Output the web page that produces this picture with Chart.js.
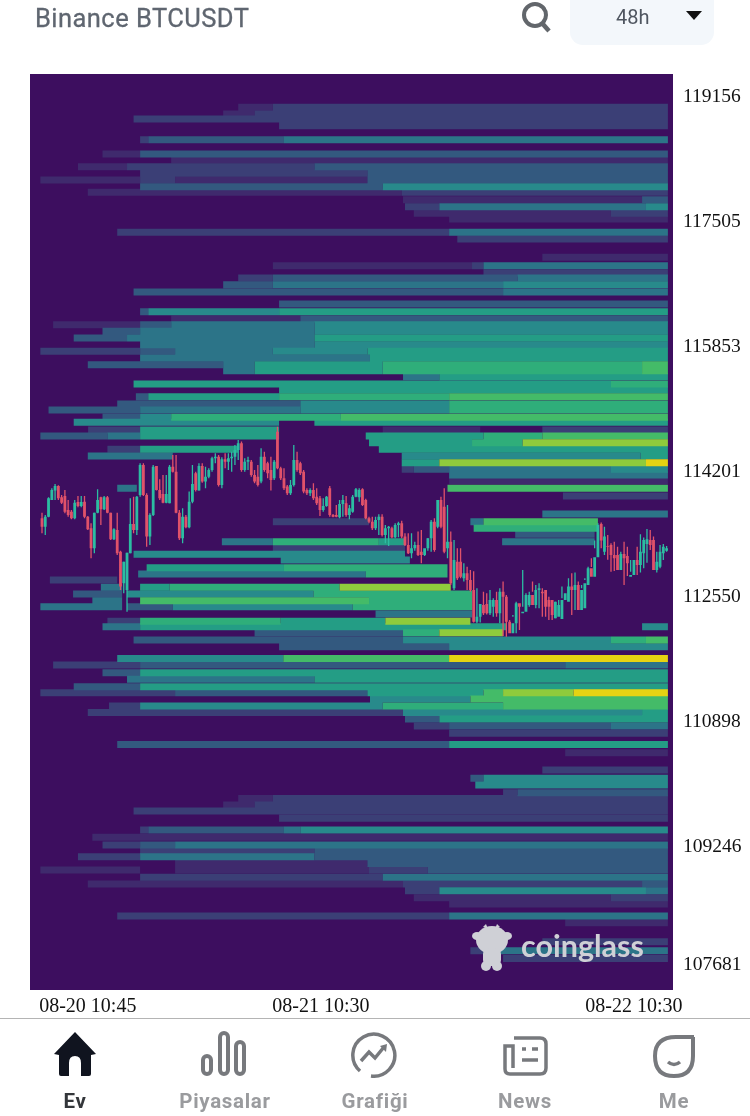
<!DOCTYPE html>
<html>
<head>
<meta charset="utf-8">
<title>Binance BTCUSDT</title>
<script src="https://cdn.jsdelivr.net/npm/chart.js@4"></script>
<style>
    html, body { margin: 0; padding: 0; background: #fff; }
    body { position: relative; width: 750px; height: 1116px; overflow: hidden; font-family: Roboto, sans-serif; }
    #grafico { position: absolute; left: 0; top: 0; filter: blur(0.4px); }
    .titulo { position: absolute; left: 35px; top: 3px; font-size: 25.5px; line-height: 30px; font-weight: 400; color: #5f6670; letter-spacing: 0.45px; -webkit-text-stroke: 0.3px #5f6670; }
    .selector { position: absolute; left: 570px; top: -12px; width: 144px; height: 57px; background: #f3f7fb; border-radius: 13px; }
    .selector span { position: absolute; left: 46px; top: 17px; font-size: 20px; line-height: 24px; color: #4f5660; }
    .logo { position: absolute; left: 472px; top: 924px; }
    .marca { position: absolute; left: 521px; top: 926px; font-family: Lato, sans-serif; font-size: 30.5px; line-height: 38px; font-weight: 700; color: #cfd0d6; }
    .linea { position: absolute; left: 0; top: 1018px; width: 750px; height: 1px; background: #b4b4b4; }
    .tab { position: absolute; top: 1088px; width: 150px; text-align: center; font-size: 20.5px; line-height: 26px; font-weight: 700; color: #9a9b9e; letter-spacing: 0.7px; }
    .icono { position: absolute; top: 1030px; }
</style>
</head>
<body>
<canvas id="grafico" width="750" height="1116"></canvas>

<div class="titulo">Binance BTCUSDT</div>
<svg class="icono" style="left:518px;top:0" width="36" height="34" viewBox="0 0 36 34">
    <circle cx="17" cy="15" r="11" fill="none" stroke="#62666b" stroke-width="4"/>
    <line x1="24" y1="23" x2="31" y2="31" stroke="#62666b" stroke-width="4.5"/>
</svg>
<div class="selector"><span>48h</span></div>
<svg class="icono" style="left:685px;top:10px" width="18" height="12"><polygon points="1,1 17,1 9,10" fill="#111"/></svg>

<svg class="logo" width="42" height="48" viewBox="0 0 42 48">
    <g fill="#cfd0d6">
        <ellipse cx="20" cy="16" rx="16" ry="14"/>
        <ellipse cx="5" cy="12" rx="5" ry="4"/>
        <ellipse cx="35" cy="12" rx="5" ry="4"/>
        <rect x="11" y="24" width="18" height="18" rx="6"/>
        <ellipse cx="14" cy="42" rx="5" ry="5"/>
        <ellipse cx="25" cy="42" rx="5" ry="5"/>
        <polygon points="11,3 14,0 16,5"/>
        <polygon points="28,3 25,0 23,5"/>
    </g>
</svg>
<div class="marca">coinglass</div>

<div class="linea"></div>
<svg class="icono" style="left:52px" width="46" height="48" viewBox="0 0 46 48">
    <path d="M23 2 L44 24 L39 25 L39 44 Q39 46 37 46 L29 46 L29 33 Q29 26 23 26 Q17 26 17 33 L17 46 L9 46 Q7 46 7 44 L7 25 L2 24 Z" fill="#10141f"/>
</svg>
<svg class="icono" style="left:200px" width="50" height="46" viewBox="0 0 50 46" fill="none" stroke="#77797d" stroke-width="4">
    <rect x="3" y="26" width="8" height="18" rx="4"/>
    <rect x="20" y="3" width="8" height="41" rx="4"/>
    <rect x="36" y="12" width="8" height="32" rx="4"/>
</svg>
<svg class="icono" style="left:351px;top:1032px" width="48" height="48" viewBox="0 0 48 48" fill="none" stroke="#77797d" stroke-width="3.5">
    <path d="M9 39 A21 21 0 1 1 20 44"/>
    <path d="M10 29 L18 20 L24 26 L33 15" stroke-width="3.5"/>
    <polygon points="36,12 29,14 35,20" fill="#77797d" stroke="none"/>
</svg>
<svg class="icono" style="left:502px;top:1034px" width="46" height="44" viewBox="0 0 46 44" fill="none" stroke="#77797d" stroke-width="3.5">
    <path d="M12 4 L38 4 Q44 4 44 10 L44 34 Q44 40 38 40 L8 40 Q3 40 3 35 L3 12 L11 12 L11 34"/>
    <line x1="20" y1="15" x2="24" y2="15"/>
    <line x1="30" y1="15" x2="36" y2="15"/>
    <line x1="20" y1="26" x2="36" y2="26"/>
</svg>
<svg class="icono" style="left:652px;top:1034px" width="46" height="46" viewBox="0 0 46 46" fill="none" stroke="#77797d" stroke-width="4">
    <path d="M42 3 L24 3 Q3 3 3 22 Q3 42 22 42 Q41 42 41 22 L41 3"/>
    <path d="M16 28 Q22 33 28 28" stroke-width="3.5"/>
</svg>
<div class="tab" style="left:0;color:#33363a">Ev</div>
<div class="tab" style="left:150px">Piyasalar</div>
<div class="tab" style="left:300px">Grafiği</div>
<div class="tab" style="left:450px">News</div>
<div class="tab" style="left:599px">Me</div>

<script>
'use strict';

// Ejes
const priceTicks = [119156, 117505, 115853, 114201, 112550, 110898, 109246, 107681];
const timeTickCandles = [14, 85.3, 181];
const timeTickLabels = ['08-20 10:45', '08-21 10:30', '08-22 10:30'];

// Velas de 15 min
const candleOpen = [
    113560, 113450, 113582, 113802, 113926, 113987, 113838, 113855, 113670, 113648, 113560, 113776, 113723, 113780, 113582, 113428,
    113163, 113635, 113838, 113679, 113838, 113635, 113282, 113406, 113119, 112701, 112612, 113097, 113485, 113406, 113868, 114265,
    113868, 113318, 113604, 114252, 113935, 113882, 113767, 113758, 114243, 114177, 113635, 113296, 113582, 113441, 113780, 114155,
    113926, 114252, 114045, 114111, 114199, 114353, 114375, 114001, 114340, 114309, 114353, 114375, 114463, 114552, 114199, 114309,
    114309, 114133, 114111, 114045, 114375, 114287, 114199, 114089, 114706, 114221, 114089, 113979, 113890, 114001, 114331, 114287,
    114177, 113935, 113890, 113935, 113846, 113824, 113670, 113723, 113957, 113604, 113604, 113573, 113749, 113758, 113604, 113648,
    113846, 113838, 113943, 113802, 113560, 113516, 113428, 113538, 113582, 113340, 113428, 113428, 113309, 113472, 113494, 113318,
    113207, 113097, 113163, 113207, 113119, 113075, 113163, 113296, 113516, 113450, 113802, 113714, 113163, 113251, 112634, 112987,
    112987, 112767, 112833, 112745, 112612, 112194, 112260, 112414, 112427, 112304, 112392, 112480, 112304, 112590, 112524, 112194,
    112040, 112172, 112436, 112304, 112326, 112414, 112546, 112414, 112612, 112590, 112612, 112480, 112480, 112238, 112260, 112229,
    112480, 112458, 112657, 112612, 112679, 112348, 112370, 112679, 112899, 112789, 113044, 113485, 113119, 113194, 113207, 113075,
    113075, 112877, 113088, 113062, 112789, 112811, 113009, 112943, 113097, 113221, 113273, 113273, 112877, 112921, 113097, 113132
];
const candleHigh = [
    113635, 113604, 113838, 113957, 114014, 113996, 113868, 113935, 113802, 113670, 113802, 113855, 113855, 113855, 113591, 113494,
    113635, 113943, 113846, 113855, 113855, 113635, 113428, 113635, 113132, 112987, 113106, 113824, 113846, 113855, 114287, 114287,
    113890, 113626, 114265, 114252, 114076, 114133, 114133, 114265, 114397, 114397, 113670, 113692, 113604, 113913, 114265, 114177,
    114287, 114287, 114243, 114221, 114375, 114419, 114397, 114366, 114419, 114419, 114441, 114529, 114596, 114574, 114353, 114375,
    114331, 114199, 114265, 114485, 114441, 114309, 114375, 114331, 114772, 114243, 114221, 114001, 114067, 114529, 114441, 114309,
    114199, 113957, 113957, 114023, 113957, 113855, 113824, 113855, 113987, 113617, 113736, 113802, 113868, 113855, 113736, 113868,
    113961, 113957, 113957, 113820, 113582, 113582, 113582, 113613, 113613, 113472, 113459, 113450, 113494, 113516, 113529, 113362,
    113362, 113362, 113251, 113384, 113406, 113141, 113296, 113538, 113560, 113714, 113846, 113957, 113736, 113384, 113273, 113163,
    113163, 112965, 112921, 112877, 112860, 112634, 112344, 112590, 112568, 112612, 112502, 112590, 112634, 112723, 112546, 112216,
    112260, 112458, 112414, 112877, 112568, 112590, 112723, 112679, 112701, 112634, 112502, 112524, 112480, 112458, 112480, 112502,
    112590, 112767, 112833, 112842, 112723, 112634, 112745, 112921, 112916, 113163, 113494, 113503, 113450, 113340, 113229, 113251,
    113185, 113119, 113251, 113185, 113009, 113009, 113185, 113349, 113307, 113419, 113406, 113318, 113119, 113207, 113221, 113194
];
const candleLow = [
    113362, 113340, 113573, 113802, 113802, 113802, 113749, 113626, 113582, 113547, 113547, 113705, 113705, 113560, 113406, 113031,
    113097, 113626, 113472, 113670, 113626, 113274, 113274, 113075, 112612, 112568, 112326, 113097, 113362, 113340, 113846, 113855,
    113185, 113207, 113591, 113926, 113802, 113758, 113758, 113758, 114164, 113626, 113274, 113229, 113428, 113428, 113758, 113913,
    113926, 114031, 113957, 114089, 114177, 114287, 113979, 113957, 114221, 114199, 114177, 114265, 114331, 114177, 114177, 114199,
    114111, 114023, 113979, 114023, 114177, 114089, 113926, 114067, 114208, 114067, 113935, 113868, 113868, 113979, 114177, 114133,
    113890, 113868, 113855, 113802, 113736, 113591, 113648, 113714, 113582, 113573, 113573, 113560, 113582, 113582, 113547, 113635,
    113838, 113780, 113723, 113547, 113494, 113406, 113406, 113340, 113318, 113229, 113194, 113296, 113296, 113309, 113296, 113194,
    113088, 113031, 113132, 113062, 112965, 113062, 113132, 113119, 113119, 113428, 113428, 113097, 113031, 112679, 112612, 112745,
    112767, 112723, 112612, 112590, 112181, 112172, 112181, 112282, 112287, 112282, 112260, 112260, 112172, 112004, 111995, 112150,
    112282, 112040, 112084, 112392, 112392, 112392, 112590, 112370, 112370, 112260, 112260, 112216, 112216, 112238, 112370, 112657,
    112590, 112634, 112282, 112348, 112348, 112679, 112767, 112767, 113031, 113265, 113097, 113163, 113075, 113011, 112855, 112864,
    113009, 112943, 112679, 112798, 112855, 112930, 112811, 112842, 112899, 112974, 113141, 112877, 112842, 112899, 113009, 113119
];
const candleClose = [
    113450, 113582, 113824, 113935, 113987, 113824, 113767, 113648, 113604, 113560, 113767, 113723, 113776, 113582, 113415, 113163,
    113635, 113802, 113679, 113838, 113635, 113282, 113415, 113097, 112657, 112987, 113106, 113485, 113406, 113846, 114265, 113868,
    113318, 113604, 114243, 113935, 113824, 113767, 113882, 114243, 114177, 113635, 113296, 113582, 113441, 113780, 114014, 113935,
    114252, 114045, 114111, 114199, 114353, 114375, 114001, 114340, 114309, 114353, 114375, 114463, 114552, 114199, 114309, 114331,
    114133, 114045, 114001, 114375, 114199, 114155, 114067, 114309, 114221, 114089, 113957, 113890, 114001, 114331, 114199, 114155,
    113913, 113890, 113935, 113824, 113758, 113670, 113723, 113846, 113604, 113582, 113582, 113749, 113802, 113604, 113692, 113846,
    113943, 113935, 113736, 113560, 113516, 113428, 113538, 113582, 113340, 113428, 113450, 113309, 113472, 113494, 113318, 113207,
    113097, 113163, 113207, 113075, 113075, 113163, 113296, 113516, 113141, 113802, 113450, 113119, 113251, 112701, 113009, 112767,
    112789, 112833, 112745, 112612, 112194, 112260, 112427, 112304, 112304, 112480, 112480, 112304, 112590, 112524, 112194, 112040,
    112172, 112436, 112392, 112326, 112546, 112546, 112414, 112612, 112634, 112568, 112392, 112392, 112282, 112458, 112414, 112480,
    112568, 112657, 112612, 112679, 112348, 112612, 112701, 112899, 112789, 113044, 113472, 113265, 113318, 113185, 113075, 113031,
    112877, 113088, 113031, 112965, 112811, 113009, 112943, 113119, 113274, 113282, 113207, 112877, 112987, 113119, 113185, 113163
];

// Filas del mapa de calor: precio, luego tramos [vela inicial, vela final, nivel]
const E = 191.4;
const heatRows = [
    [118993, [60, 70.6, 1], [70.6, E, 2]],
    [118905, [55.4, 65, 1], [65, 70.6, 2], [70.6, E, 2]],
    [118839, [28, 65, 2], [65, E, 2]],
    [118751, [72.5, E, 2]],
    [118566, [30, 32.5, 2], [32.5, 73.8, 3], [73.8, 79, 4], [79, E, 4]],
    [118376, [18.5, 30, 1], [30, 39.5, 3], [39.5, 91.4, 3], [91.4, E, 3]],
    [118297, [39.5, E, 1]],
    [118209, [11, 26, 1], [26, 83.3, 2], [83.3, E, 3]],
    [118121, [30, 99.5, 2], [99.5, E, 3]],
    [118033, [-0.5, 30, 1], [30, 40.7, 2], [40.7, 99.5, 1], [99.5, E, 3]],
    [117944, [30, 104.2, 3], [104.2, E, 5]],
    [117870, [14, 110, 1], [110, E, 2]],
    [117773, [110.4, 183.5, 1], [183.5, E, 3]],
    [117680, [111, 121.5, 2], [121.5, 184.7, 4], [184.7, E, 5]],
    [117592, [113.7, 174, 1], [174, E, 2]],
    [117517, [124.5, E, 1]],
    [117341, [23, 124.5, 2], [124.5, E, 4]],
    [117253, [127, E, 2]],
    [117010, [153, E, 1]],
    [116900, [70.6, 131.5, 1], [131.5, 135, 2], [135, E, 4]],
    [116803, [135, E, 2]],
    [116737, [60, 70.6, 2], [70.6, 145.4, 3], [145.4, E, 4]],
    [116649, [55.4, 70.6, 3], [70.6, 141, 4], [141, E, 5]],
    [116552, [28, 141, 3], [141, E, 4]],
    [116393, [72.5, E, 3]],
    [116292, [30, 32.5, 3], [32.5, 72.5, 5], [72.5, E, 6]],
    [116195, [39.5, 79, 1], [79, E, 3]],
    [116120, [3.4, 30, 1], [30, 39.5, 3], [39.5, 83.3, 4], [83.3, E, 5]],
    [116032, [18.5, 30, 3], [30, 83.3, 4], [83.3, E, 5]],
    [115944, [9.7, 26, 3], [26, 83.3, 4], [83.3, E, 6]],
    [115855, [30, 83.3, 4], [83.3, E, 5]],
    [115767, [-0.5, 30, 2], [30, 40.7, 3], [40.7, 70.6, 4], [70.6, 99.5, 5], [99.5, E, 6]],
    [115679, [30, 100.3, 4], [100.3, E, 6]],
    [115591, [14, 55.4, 3], [55.4, 65, 4], [65, 104.2, 6], [104.2, 183.5, 7], [183.5, E, 8]],
    [115512, [55.4, 65, 4], [65, 104.2, 6], [104.2, 183.5, 7], [183.5, E, 8]],
    [115433, [110.4, 121.5, 4], [121.5, E, 6]],
    [115336, [28, 174, 6], [174, E, 7]],
    [115256, [72.5, E, 6]],
    [115168, [28.7, 32.5, 3], [32.5, 72.5, 6], [72.5, 124.5, 7], [124.5, E, 8]],
    [115071, [23, 79, 3], [79, 124.5, 5], [124.5, E, 7]],
    [114992, [2, 30, 3], [30, 79, 4], [79, 124.5, 5], [124.5, E, 7]],
    [114895, [18.5, 30, 3], [30, 39.5, 5], [39.5, 91.4, 7], [91.4, E, 8]],
    [114829, [9.7, 72.5, 5], [83.3, E, 6]],
    [114728, [14.1, 30, 2], [30, 72.5, 6], [104.2, 134, 1], [153, E, 2]],
    [114648, [-0.5, 20, 3], [20, 30, 4], [30, 72.5, 6], [99, 135, 6], [135, 153, 7], [153, E, 8]],
    [114560, [100, 131.5, 6], [131.5, 147, 7], [147, E, 9]],
    [114472, [20, 30, 2], [30, 60, 6], [103, E, 6]],
    [114384, [14, 40, 4], [110, 183, 5], [183, E, 6]],
    [114296, [110, 121.5, 6], [121.5, 184.7, 9], [184.7, E, 10]],
    [114208, [110, 113.7, 2], [113.7, 124.5, 3], [124.5, 174, 4], [174, E, 5]],
    [114133, [124.5, E, 4]],
    [114058, [124.5, E, 1]],
    [113957, [23, 29, 4], [124, E, 8]],
    [113855, [159.3, E, 2]],
    [113617, [153, E, 4]],
    [113516, [70.6, 100, 2], [131, 135, 4], [135, 170, 8]],
    [113428, [132, 170, 7]],
    [113349, [144.7, 169, 3]],
    [113251, [55, 70.6, 4], [70.6, 103, 7], [103, 111, 6], [140.7, 169, 4]],
    [113163, [70.6, 111, 2]],
    [113084, [28, 111, 5]],
    [113009, [73, 112.5, 5]],
    [112908, [32, 74, 6], [74, 124, 7]],
    [112824, [29.4, 99, 4], [99, 124, 7]],
    [112745, [2.4, 23, 2]],
    [112648, [18, 24.5, 4], [30, 39, 6], [39, 91, 7], [91, 125, 9]],
    [112560, [9.5, 24.5, 3], [26, 83, 5], [83, 131.5, 7]],
    [112471, [15.4, 24.5, 4], [30, 100, 8], [100, 131.5, 7]],
    [112392, [-0.5, 24.5, 4], [26, 40, 3], [40, 95, 5], [95, 131.5, 7]],
    [112295, [102, 131.5, 4]],
    [112200, [20, 30, 2], [30, 73, 7], [73, 105, 6], [105, 131, 9]],
    [112128, [18.5, 30, 4], [30, 59, 6], [59, 142, 6], [183.5, E, 5]],
    [112048, [65, 110.4, 3], [110.4, 121.5, 7], [121.5, 141, 9]],
    [111951, [28, 110.4, 3], [110.4, 174, 5], [174, 184.7, 7], [184.7, E, 8]],
    [111863, [72.5, 124.5, 3], [124.5, E, 5]],
    [111708, [23, 73.8, 5], [73.8, 124.5, 8], [124.5, E, 10]],
    [111620, [3.4, 30, 2], [30, 160, 3], [160, E, 4]],
    [111519, [18.5, 30, 3], [30, E, 6]],
    [111431, [26, 83.3, 4], [83.3, E, 6]],
    [111334, [9.7, 30, 3], [30, E, 6]],
    [111254, [-0.5, 40.7, 2], [40.7, 99.5, 3], [99.5, 135, 6], [135, 141, 8], [141, 162.6, 9], [162.6, E, 10]],
    [111171, [100.3, 131, 5], [131, 147, 8], [147, E, 8]],
    [111078, [20.5, 30, 2], [30, 104.2, 5], [104.2, 141, 7], [141, E, 8]],
    [110994, [14, 110.4, 2], [110.4, 183.5, 5], [183.5, E, 6]],
    [110906, [111, 121.5, 3], [121.5, E, 6]],
    [110814, [113.7, 124.5, 2], [124.5, 174, 3], [174, E, 4]],
    [110717, [124.5, E, 2]],
    [110571, [23, 124.5, 3], [124.5, E, 6]],
    [110461, [160, E, 1]],
    [110232, [153, E, 2]],
    [110122, [131, 135, 3], [135, E, 5]],
    [110034, [132.5, E, 5]],
    [109932, [141, 145.4, 2], [145.4, E, 3]],
    [109857, [60, 70.6, 1], [70.6, E, 2]],
    [109769, [55.4, 65, 1], [65, E, 2]],
    [109690, [28, E, 2]],
    [109593, [72.5, E, 2]],
    [109439, [30, 32.5, 2], [32.5, 73.8, 3], [73.8, 79, 4], [79, E, 5]],
    [109342, [15.4, E, 1]],
    [109240, [18.5, 30, 2], [30, 40.7, 3], [40.7, E, 4]],
    [109166, [30, 83.3, 2], [83.3, E, 3]],
    [109086, [11, 30, 2], [30, 83.3, 4], [83.3, E, 3]],
    [108998, [40.7, 99.5, 1], [99.5, E, 3]],
    [108910, [-0.5, 30, 1], [40.7, 100, 1], [100, 118, 2], [118, E, 3]],
    [108813, [30, 104.2, 2], [104.2, E, 4]],
    [108725, [14, 110.4, 1], [110.4, 183.5, 2], [183.5, E, 3]],
    [108637, [111, 121.5, 2], [121.5, 184.7, 5], [184.7, E, 4]],
    [108544, [113.7, 174, 1], [174, E, 2]],
    [108461, [124.5, E, 1]],
    [108302, [23, 124.5, 2], [124.5, E, 4]],
    [108214, [160, E, 1]],
    [107963, [153, E, 2]],
    [107843, [131, 135, 2], [135, E, 4]],
    [107742, [141, E, 2]]
];

const coloresNivel = ['#3f2a6d', '#3b3f76', '#33597f', '#2c7488', '#288a8b', '#249d85', '#2fae7a', '#44bb68', '#8fcb3c', '#e6d312'];
const colorFondo = '#3d0e5f';
const colorSube = '#2cbda2';
const colorBaja = '#e0526a';

// Un dataset de linea por nivel, con huecos entre tramos
let crearFranjas = () => {
    return coloresNivel.map((color, n) => {
        let puntos = [];
        for (let i = 0; i < heatRows.length; i++) {
            let precio = heatRows[i][0];
            for (let j = 1; j < heatRows[i].length; j++) {
                let tramo = heatRows[i][j];
                if (tramo[2] == n + 1) {
                    puntos.push({ x: tramo[0], y: precio }, { x: tramo[1], y: precio }, { x: tramo[1], y: null });
                }
            }
        }
        return { data: puntos, borderColor: color, borderWidth: 7, order: 20 - n };
    });
}

let crearVelas = (subida, desde, hasta, ancho) => {
    let puntos = [];
    for (let i = 0; i < candleClose.length; i++) {
        if ((candleClose[i] >= candleOpen[i]) == subida) {
            puntos.push({ x: i, y: desde[i] }, { x: i, y: hasta[i] }, { x: i, y: null });
        }
    }
    return { data: puntos, borderColor: subida ? colorSube : colorBaja, borderWidth: ancho, order: 1 };
}

const fondoPlugin = {
    id: 'fondo',
    beforeDraw: (chart) => {
        let area = chart.chartArea;
        chart.ctx.fillStyle = colorFondo;
        chart.ctx.fillRect(area.left, area.top, area.right - area.left, area.bottom - area.top);
    }
};

new Chart(document.getElementById('grafico'), {
    type: 'scatter',
    data: {
        datasets: [
            crearVelas(true, candleHigh, candleLow, 1.3),
            crearVelas(false, candleHigh, candleLow, 1.3),
            crearVelas(true, candleOpen, candleClose, 2.8),
            crearVelas(false, candleOpen, candleClose, 2.8),
            ...crearFranjas()
        ]
    },
    options: {
        responsive: false,
        animation: false,
        showLine: true,
        spanGaps: false,
        layout: { padding: { left: 30, top: 74, right: 0, bottom: 96 } },
        elements: { point: { radius: 0, hoverRadius: 0 }, line: { borderCapStyle: 'butt', tension: 0 } },
        plugins: { legend: { display: false }, tooltip: { enabled: false } },
        events: [],
        scales: {
            x: {
                type: 'linear',
                min: -3.67,
                max: 192.96,
                grid: { display: false, drawTicks: false },
                border: { display: false },
                afterBuildTicks: (escala) => { escala.ticks = timeTickCandles.map(v => ({ value: v })); },
                afterFit: (escala) => { escala.height = 30; },
                ticks: {
                    autoSkip: false,
                    maxRotation: 0,
                    padding: 5,
                    color: '#111',
                    font: { family: '"Liberation Serif"', size: 20 },
                    callback: (v, i) => timeTickLabels[i]
                }
            },
            y: {
                type: 'linear',
                position: 'right',
                min: 107324,
                max: 119434,
                grid: { display: false, drawTicks: false },
                border: { display: false },
                afterBuildTicks: (escala) => { escala.ticks = priceTicks.map(v => ({ value: v })); },
                afterFit: (escala) => { escala.width = 77; },
                ticks: {
                    autoSkip: false,
                    padding: 10,
                    labelOffset: 2,
                    color: '#111',
                    font: { family: '"Liberation Serif"', size: 19.5 },
                    callback: (v) => String(v)
                }
            }
        }
    },
    plugins: [fondoPlugin]
});
</script>
</body>
</html>
